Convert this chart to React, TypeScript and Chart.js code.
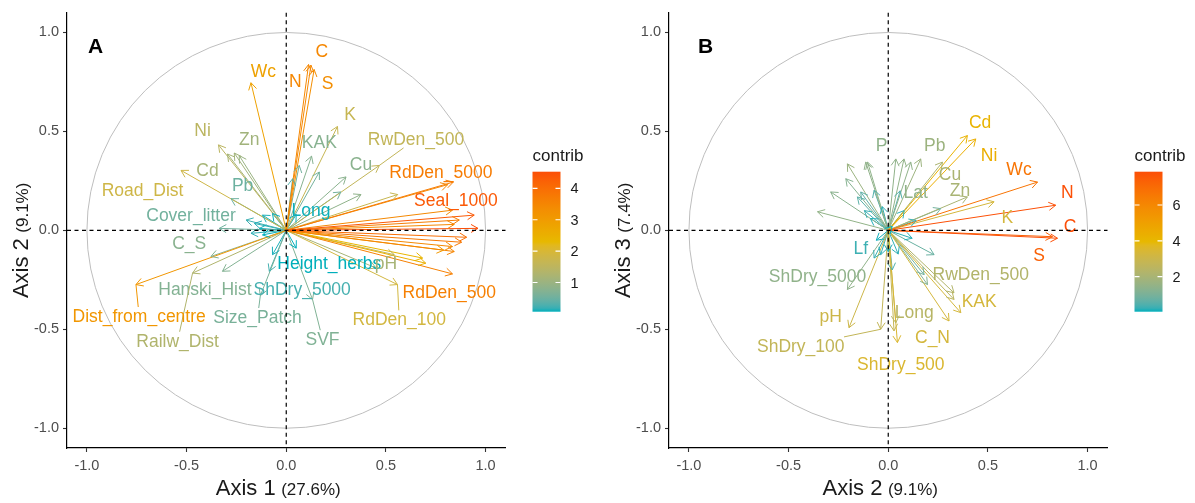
import React, { useEffect, useRef } from "react";
import { Chart, registerables } from "chart.js";

Chart.register(...registerables);

const FONT = '"Liberation Sans", Arial, Helvetica, sans-serif';
const AXIS_TICKS = [-1, -0.5, 0, 0.5, 1];
const GRADIENT_COLS = ["#00AFBB", "#E7B800", "#FC4E07"];

// ---------- Panel A: variables on Axis 1 / Axis 2 ----------
const A_VARS = [
  "Wc", "N", "C", "S", "K", "KAK", "RwDen_500", "Cu", "", "RdDen_5000",
  "", "", "", "Seal_1000", "", "", "", "", "", "",
  "", "Long", "", "", "", "", "RdDen_500", "RdDen_100", "pH", "",
  "", "", "", "SVF", "Height_herbs", "Ni", "Zn", "Cd", "", "Road_Dist",
  "Pb", "Cover_litter", "C_S", "Dist_from_centre", "Railw_Dist", "Hanski_Hist", "ShDry_5000", "Size_Patch", "", "",
  "", "", "", "", "", "",
];
const A_AXIS1 = [
  -0.177, 0.112, 0.124, 0.14, 0.257, 0.127, 0.467, 0.3, 0.274, 0.838,
  0.81, 0.559, 0.375, 0.943, 0.868, 0.834, 0.962, 0.843, 0.065, 0.032,
  0.166, 0.05, 0.834, 0.843, 0.684, 0.7, 0.834, 0.558, 0.45, 0.542,
  0.88, 0.905, 0.79, 0.132, 0.05, -0.34, -0.261, -0.295, -0.236, -0.528,
  -0.277, -0.336, -0.378, -0.754, -0.47, -0.32, -0.085, -0.13, -0.069, -0.202,
  -0.16, -0.135, -0.119, -0.069, -0.177, -0.119,
];
const A_AXIS2 = [
  0.746, 0.838, 0.835, 0.813, 0.525, 0.375, 0.328, 0.27, 0.194, 0.244,
  0.231, 0.181, 0.181, 0.077, 0.052, 0.102, 0.01, 0.03, 0.328, 0.261,
  0.295, 0.08, -0.082, -0.107, -0.14, -0.166, -0.22, -0.274, -0.19, -0.123,
  -0.06, -0.035, -0.1, -0.35, -0.09, 0.432, 0.391, 0.386, 0.378, 0.303,
  0.16, 0.01, -0.132, -0.274, -0.216, -0.207, -0.207, -0.33, -0.123, 0.052,
  0.035, 0.01, 0.077, 0.085, -0.015, -0.023,
];
const A_CONTRIB = [
  2.86, 3.48, 3.47, 3.31, 1.66, 0.76, 1.59, 0.79, 0.55, 3.71,
  3.45, 1.68, 0.85, 4.36, 3.68, 3.44, 4.53, 3.46, 0.55, 0.33,
  0.56, 0.08, 3.42, 3.52, 2.37, 2.52, 3.62, 1.88, 1.16, 1.5,
  3.79, 3.99, 3.09, 0.68, 0.07, 1.47, 1.08, 1.15, 0.97, 1.81,
  0.5, 0.55, 0.78, 3.13, 1.3, 0.71, 0.24, 0.61, 0.1, 0.21,
  0.13, 0.09, 0.1, 0.07, 0.15, 0.07,
];
const A_LEGEND_TICKS = [1, 2, 3, 4];

// repelled label placement (axis units)
const A_LABEL_AT: Record<string, [number, number]> = {
  Wc: [-0.115, 0.806], N: [0.045, 0.756], C: [0.179, 0.905], S: [0.207, 0.746],
  K: [0.32, 0.587], KAK: [0.166, 0.445], RwDen_500: [0.651, 0.462], Cu: [0.375, 0.336],
  RdDen_5000: [0.776, 0.295], Seal_1000: [0.851, 0.153], Long: [0.124, 0.102],
  Ni: [-0.42, 0.504], Zn: [-0.186, 0.462], Cd: [-0.395, 0.303], Road_Dist: [-0.721, 0.203],
  Pb: [-0.219, 0.228], Cover_litter: [-0.478, 0.077], C_S: [-0.487, -0.065],
  Dist_from_centre: [-0.738, -0.433], Hanski_Hist: [-0.408, -0.299], Railw_Dist: [-0.545, -0.558],
  ShDry_5000: [0.08, -0.298], Size_Patch: [-0.144, -0.438], Height_herbs: [0.216, -0.166],
  pH: [0.5, -0.166], SVF: [0.182, -0.55], RdDen_500: [0.818, -0.311], RdDen_100: [0.567, -0.45],
};
const A_SEGMENTS = ["RwDen_500", "Dist_from_centre", "Railw_Dist", "Size_Patch", "SVF", "RdDen_100"];

// ---------- Panel B: variables on Axis 2 / Axis 3 ----------
const B_VARS = [
  "Cd", "Ni", "Wc", "N", "K", "Zn", "Cu", "Pb", "Lat", "P",
  "", "", "C", "S", "", "", "", "", "", "",
  "", "", "", "", "Lf", "", "ShDry_5000", "pH", "ShDry_100", "Long",
  "ShDry_500", "C_N", "KAK", "RwDen_500", "", "", "", "", "", "",
  "", "", "", "", "", "", "", "", "", "",
];
const B_AXIS2 = [
  0.397, 0.439, 0.749, 0.84, 0.531, 0.397, 0.272, 0.163, 0.113, -0.104,
  0.038, 0.079, 0.849, 0.824, 0.23, 0.263, -0.355, -0.289, -0.205, -0.113,
  -0.213, -0.138, -0.071, -0.155, -0.071, -0.038, -0.205, -0.197, -0.038, 0.038,
  0.046, 0.305, 0.364, 0.33, 0.33, 0.18, 0.197, 0.0, 0.029, 0.08,
  -0.09, 0.12, -0.06, 0.02, 0.06, -0.03, 0.14, -0.12, 0.05, 0.02,
];
const B_AXIS3 = [
  0.479, 0.462, 0.244, 0.127, 0.144, 0.169, 0.345, 0.361, 0.345, 0.345,
  0.361, 0.361, -0.04, -0.032, -0.123, 0.11, 0.094, 0.194, 0.336, 0.345,
  0.261, 0.194, 0.203, 0.169, -0.14, -0.123, -0.299, -0.492, -0.5, -0.467,
  -0.567, -0.458, -0.416, -0.316, -0.349, -0.224, -0.274, -0.107, -0.508, 0.1,
  0.06, -0.04, -0.05, -0.2, 0.2, 0.12, 0.05, 0.1, -0.12, 0.02,
];
const B_CONTRIB = [
  4.19, 4.39, 6.72, 7.81, 3.28, 2.01, 2.09, 1.7, 1.43, 1.41,
  1.43, 1.47, 7.86, 7.36, 0.74, 0.88, 1.46, 1.31, 1.68, 1.43,
  1.23, 0.61, 0.5, 0.57, 0.27, 0.18, 1.42, 3.04, 2.72, 2.38,
  3.5, 3.28, 3.3, 2.26, 2.5, 0.89, 1.23, 0.12, 2.8, 0.18,
  0.12, 0.17, 0.07, 0.44, 0.47, 0.17, 0.24, 0.26, 0.18, 0.04,
];
const B_LEGEND_TICKS = [2, 4, 6];

const B_LABEL_AT: Record<string, [number, number]> = {
  Cd: [0.461, 0.545], Ni: [0.506, 0.378], Wc: [0.656, 0.308], N: [0.899, 0.194],
  K: [0.598, 0.069], Zn: [0.36, 0.203], Cu: [0.31, 0.286], Pb: [0.233, 0.428],
  Lat: [0.138, 0.194], P: [-0.034, 0.432], C: [0.912, 0.019], S: [0.757, -0.123],
  Lf: [-0.138, -0.09], ShDry_5000: [-0.355, -0.232], pH: [-0.289, -0.433],
  ShDry_100: [-0.439, -0.584], Long: [0.13, -0.416], ShDry_500: [0.063, -0.675],
  C_N: [0.222, -0.542], KAK: [0.456, -0.358], RwDen_500: [0.464, -0.224],
};
const B_SEGMENTS = ["ShDry_100"];

// ---------- colour scale (interpolated in CIE Lab) ----------
function hexToRgb(h: string) {
  return [1, 3, 5].map((i) => parseInt(h.slice(i, i + 2), 16));
}
function rgbToLab(rgb: number[]) {
  const lin = (c: number) => {
    c /= 255;
    return c <= 0.04045 ? c / 12.92 : Math.pow((c + 0.055) / 1.055, 2.4);
  };
  const [R, G, B] = rgb.map(lin);
  const X = (R * 0.4124 + G * 0.3576 + B * 0.1805) / 0.95047;
  const Y = R * 0.2126 + G * 0.7152 + B * 0.0722;
  const Z = (R * 0.0193 + G * 0.1192 + B * 0.9505) / 1.08883;
  const f = (t: number) => (t > 0.008856 ? Math.cbrt(t) : 7.787 * t + 16 / 116);
  const fx = f(X), fy = f(Y), fz = f(Z);
  return [116 * fy - 16, 500 * (fx - fy), 200 * (fy - fz)];
}
function labToCss(lab: number[]) {
  const [L, a, b] = lab;
  const fy = (L + 16) / 116, fx = fy + a / 500, fz = fy - b / 200;
  const inv = (t: number) => (t * t * t > 0.008856 ? t * t * t : (t - 16 / 116) / 7.787);
  const X = inv(fx) * 0.95047, Y = inv(fy), Z = inv(fz) * 1.08883;
  const R = X * 3.2406 - Y * 1.5372 - Z * 0.4986;
  const G = -X * 0.9689 + Y * 1.8758 + Z * 0.0415;
  const B = X * 0.0557 - Y * 0.204 + Z * 1.057;
  const g = (c: number) => {
    c = c <= 0.0031308 ? 12.92 * c : 1.055 * Math.pow(c, 1 / 2.4) - 0.055;
    return Math.round(Math.max(0, Math.min(1, c)) * 255);
  };
  return `rgb(${g(R)},${g(G)},${g(B)})`;
}
const LAB_STOPS = GRADIENT_COLS.map((c) => rgbToLab(hexToRgb(c)));
function gradientColor(t: number) {
  t = Math.max(0, Math.min(1, t));
  const seg = t < 0.5 ? 0 : 1;
  const u = (t - seg * 0.5) / 0.5;
  const a = LAB_STOPS[seg], b = LAB_STOPS[seg + 1];
  return labToCss(a.map((v, i) => v + (b[i] - v) * u));
}

type PanelDef = {
  tag: string;
  tagOffset: number;
  vars: string[];
  xs: number[];
  ys: number[];
  contrib: number[];
  labelAt: Record<string, [number, number]>;
  segments: string[];
  legendTicks: number[];
  xName: string;
  xPct: string;
  yName: string;
  yPct: string;
  canvasWidth: number;
};

const decorPlugin = {
  id: "panelDecor",
  beforeDatasetsDraw(chart: any) {
    const { ctx, scales } = chart;
    const x = scales.x, y = scales.y;
    const cx = x.getPixelForValue(0), cy = y.getPixelForValue(0);
    const rx = x.getPixelForValue(1) - cx, ry = cy - y.getPixelForValue(1);
    ctx.save();
    ctx.strokeStyle = "#bebebe";
    ctx.lineWidth = 1;
    ctx.beginPath();
    ctx.ellipse(cx, cy, rx, ry, 0, 0, Math.PI * 2);
    ctx.stroke();
    ctx.restore();
  },
  afterDatasetsDraw(chart: any, _a: any, o: any) {
    const p: PanelDef = o.panel;
    const colorOf = o.colorOf as (v: number) => string;
    const { ctx, scales, chartArea } = chart;
    const x = scales.x, y = scales.y;
    const ox = x.getPixelForValue(0), oy = y.getPixelForValue(0);
    const order = p.xs.map((_, i) => i).sort((a, b) => p.contrib[a] - p.contrib[b]);
    ctx.save();
    // open arrow heads
    ctx.lineWidth = 1;
    for (const i of order) {
      const px = x.getPixelForValue(p.xs[i]);
      const py = y.getPixelForValue(p.ys[i]);
      const ang = Math.atan2(py - oy, px - ox);
      const len = 8;
      ctx.strokeStyle = colorOf(p.contrib[i]);
      ctx.beginPath();
      ctx.moveTo(px - len * Math.cos(ang - Math.PI / 6), py - len * Math.sin(ang - Math.PI / 6));
      ctx.lineTo(px, py);
      ctx.lineTo(px - len * Math.cos(ang + Math.PI / 6), py - len * Math.sin(ang + Math.PI / 6));
      ctx.stroke();
    }
    // variable labels
    ctx.font = `17.5px ${FONT}`;
    ctx.textAlign = "center";
    ctx.textBaseline = "middle";
    for (const i of order) {
      const name = p.vars[i];
      if (!name || !p.labelAt[name]) continue;
      const [lx, ly] = p.labelAt[name];
      const lpx = x.getPixelForValue(lx), lpy = y.getPixelForValue(ly);
      const col = colorOf(p.contrib[i]);
      if (p.segments.includes(name)) {
        const tx = x.getPixelForValue(p.xs[i]), ty = y.getPixelForValue(p.ys[i]);
        const hw = ctx.measureText(name).width / 2 + 2, hh = 9;
        const dx = tx - lpx, dy = ty - lpy;
        const t = Math.min(dx !== 0 ? hw / Math.abs(dx) : 1e9, dy !== 0 ? hh / Math.abs(dy) : 1e9);
        if (t < 1) {
          ctx.strokeStyle = col;
          ctx.lineWidth = 1;
          ctx.beginPath();
          ctx.moveTo(lpx + dx * t, lpy + dy * t);
          ctx.lineTo(tx, ty);
          ctx.stroke();
        }
      }
      ctx.fillStyle = col;
      ctx.fillText(name, lpx, lpy + 1);
    }
    // dashed reference lines through the origin
    ctx.strokeStyle = "#000";
    ctx.lineWidth = 1.2;
    ctx.setLineDash([4, 3.5]);
    ctx.beginPath();
    ctx.moveTo(chartArea.left, oy);
    ctx.lineTo(chartArea.right, oy);
    ctx.moveTo(ox, chartArea.top);
    ctx.lineTo(ox, chartArea.bottom);
    ctx.stroke();
    ctx.setLineDash([]);
    // panel tag
    ctx.fillStyle = "#000";
    ctx.font = `bold 21px ${FONT}`;
    ctx.textAlign = "left";
    ctx.textBaseline = "alphabetic";
    ctx.fillText(p.tag, chartArea.left + p.tagOffset, 53);
    ctx.restore();
  },
  afterDraw(chart: any, _a: any, o: any) {
    const p: PanelDef = o.panel;
    const { ctx, chartArea } = chart;
    const lo = o.cmin as number, hi = o.cmax as number;
    ctx.save();
    // axis titles: name plus smaller explained-variance share
    const measure = (name: string, pct: string) => {
      ctx.font = `22px ${FONT}`;
      const w1 = ctx.measureText(name).width;
      ctx.font = `17px ${FONT}`;
      const w2 = ctx.measureText(pct).width;
      return { w1, total: w1 + 5.5 + w2 };
    };
    ctx.fillStyle = "#1a1a1a";
    ctx.textAlign = "left";
    ctx.textBaseline = "alphabetic";
    {
      const { w1, total } = measure(p.xName, p.xPct);
      const cx = (chartArea.left + chartArea.right) / 2 - 8;
      const sx = cx - total / 2;
      ctx.font = `22px ${FONT}`;
      ctx.fillText(p.xName, sx, 495);
      ctx.font = `17px ${FONT}`;
      ctx.fillText(p.xPct, sx + w1 + 5.5, 495);
    }
    {
      const { w1, total } = measure(p.yName, p.yPct);
      const cy = (chartArea.top + chartArea.bottom) / 2;
      ctx.translate(chartArea.left - 39, cy);
      ctx.rotate(-Math.PI / 2);
      const sx = -10 - total / 2;
      ctx.font = `22px ${FONT}`;
      ctx.fillText(p.yName, sx, 0);
      ctx.font = `17px ${FONT}`;
      ctx.fillText(p.yPct, sx + w1 + 5.5, 0);
      ctx.setTransform(1, 0, 0, 1, 0, 0);
    }
    // colour bar legend
    const bx = chartArea.right + 27, bw = 28, bt = 171.7, bh = 140;
    const grad = ctx.createLinearGradient(0, bt + bh, 0, bt);
    for (let k = 0; k <= 40; k++) grad.addColorStop(k / 40, gradientColor(k / 40));
    ctx.fillStyle = grad;
    ctx.fillRect(bx, bt, bw, bh);
    ctx.font = `17px ${FONT}`;
    ctx.fillStyle = "#1a1a1a";
    ctx.textBaseline = "middle";
    ctx.fillText("contrib", bx, 156.7);
    ctx.font = `14.5px ${FONT}`;
    for (const v of p.legendTicks) {
      const ty = bt + bh - ((v - lo) / (hi - lo)) * bh;
      ctx.strokeStyle = "#ffffff";
      ctx.lineWidth = 1.2;
      ctx.beginPath();
      ctx.moveTo(bx, ty);
      ctx.lineTo(bx + 5, ty);
      ctx.moveTo(bx + bw - 5, ty);
      ctx.lineTo(bx + bw, ty);
      ctx.stroke();
      ctx.fillStyle = "#1a1a1a";
      ctx.fillText(String(v), bx + bw + 10, ty + 1);
    }
    ctx.restore();
  },
};

function buildConfig(p: PanelDef) {
  const cmin = Math.min(...p.contrib), cmax = Math.max(...p.contrib);
  const colorOf = (v: number) => gradientColor((v - cmin) / (cmax - cmin));
  const datasets = p.xs.map((xv, i) => ({
    data: [{ x: 0, y: 0 }, { x: xv, y: p.ys[i] }],
    showLine: true,
    borderColor: colorOf(p.contrib[i]),
    borderWidth: 1,
    pointRadius: 0,
    pointHoverRadius: 0,
    order: -p.contrib[i],
  }));
  const axis = (fit: (s: any) => void, pad: number) => ({
    type: "linear",
    min: -1.1,
    max: 1.1,
    afterFit: fit,
    afterBuildTicks: (s: any) => {
      s.ticks = AXIS_TICKS.map((v) => ({ value: v }));
    },
    grid: { display: true, drawOnChartArea: false, drawTicks: true, tickLength: 4, tickColor: "#333", tickWidth: 1.1 },
    border: { display: true, color: "#000", width: 1.2 },
    ticks: {
      autoSkip: false,
      maxRotation: 0,
      padding: pad,
      color: "#4d4d4d",
      font: { family: FONT, size: 14.5 },
      callback: (v: any) => Number(v).toFixed(1),
    },
  });
  return {
    type: "scatter",
    data: { datasets },
    options: {
      responsive: false,
      maintainAspectRatio: false,
      animation: false,
      events: [],
      layout: { padding: { top: 9.5, right: p.canvasWidth - 67 - 438.5, left: 0, bottom: 0 } },
      scales: {
        x: axis((s: any) => { s.height = 55; }, 5),
        y: axis((s: any) => { s.width = 67; }, 4),
      },
      plugins: {
        legend: { display: false },
        tooltip: { enabled: false },
        panelDecor: { panel: p, colorOf, cmin, cmax },
      },
    },
    plugins: [decorPlugin],
  };
}

function Panel({ def, left }: { def: PanelDef; left: number }) {
  const ref = useRef<HTMLCanvasElement | null>(null);
  useEffect(() => {
    if (!ref.current) return;
    const chart = new Chart(ref.current, buildConfig(def) as any);
    return () => chart.destroy();
  }, [def]);
  return (
    <canvas
      ref={ref}
      width={def.canvasWidth}
      height={503}
      style={{ position: "absolute", left, top: 0, width: def.canvasWidth, height: 503 }}
    />
  );
}

const PANEL_A: PanelDef = {
  tag: "A",
  tagOffset: 21,
  vars: A_VARS,
  xs: A_AXIS1,
  ys: A_AXIS2,
  contrib: A_CONTRIB,
  labelAt: A_LABEL_AT,
  segments: A_SEGMENTS,
  legendTicks: A_LEGEND_TICKS,
  xName: "Axis 1",
  xPct: "(27.6%)",
  yName: "Axis 2",
  yPct: "(9.1%)",
  canvasWidth: 600,
};

const PANEL_B: PanelDef = {
  tag: "B",
  tagOffset: 29,
  vars: B_VARS,
  xs: B_AXIS2,
  ys: B_AXIS3,
  contrib: B_CONTRIB,
  labelAt: B_LABEL_AT,
  segments: B_SEGMENTS,
  legendTicks: B_LEGEND_TICKS,
  xName: "Axis 2",
  xPct: "(9.1%)",
  yName: "Axis 3",
  yPct: "(7.4%)",
  canvasWidth: 595,
};

export default function App() {
  useEffect(() => {
    document.body.style.margin = "0";
  }, []);
  return (
    <div style={{ position: "relative", width: 1195, height: 503, background: "#fff", overflow: "hidden" }}>
      <Panel def={PANEL_A} left={0} />
      <Panel def={PANEL_B} left={601.5} />
    </div>
  );
}
